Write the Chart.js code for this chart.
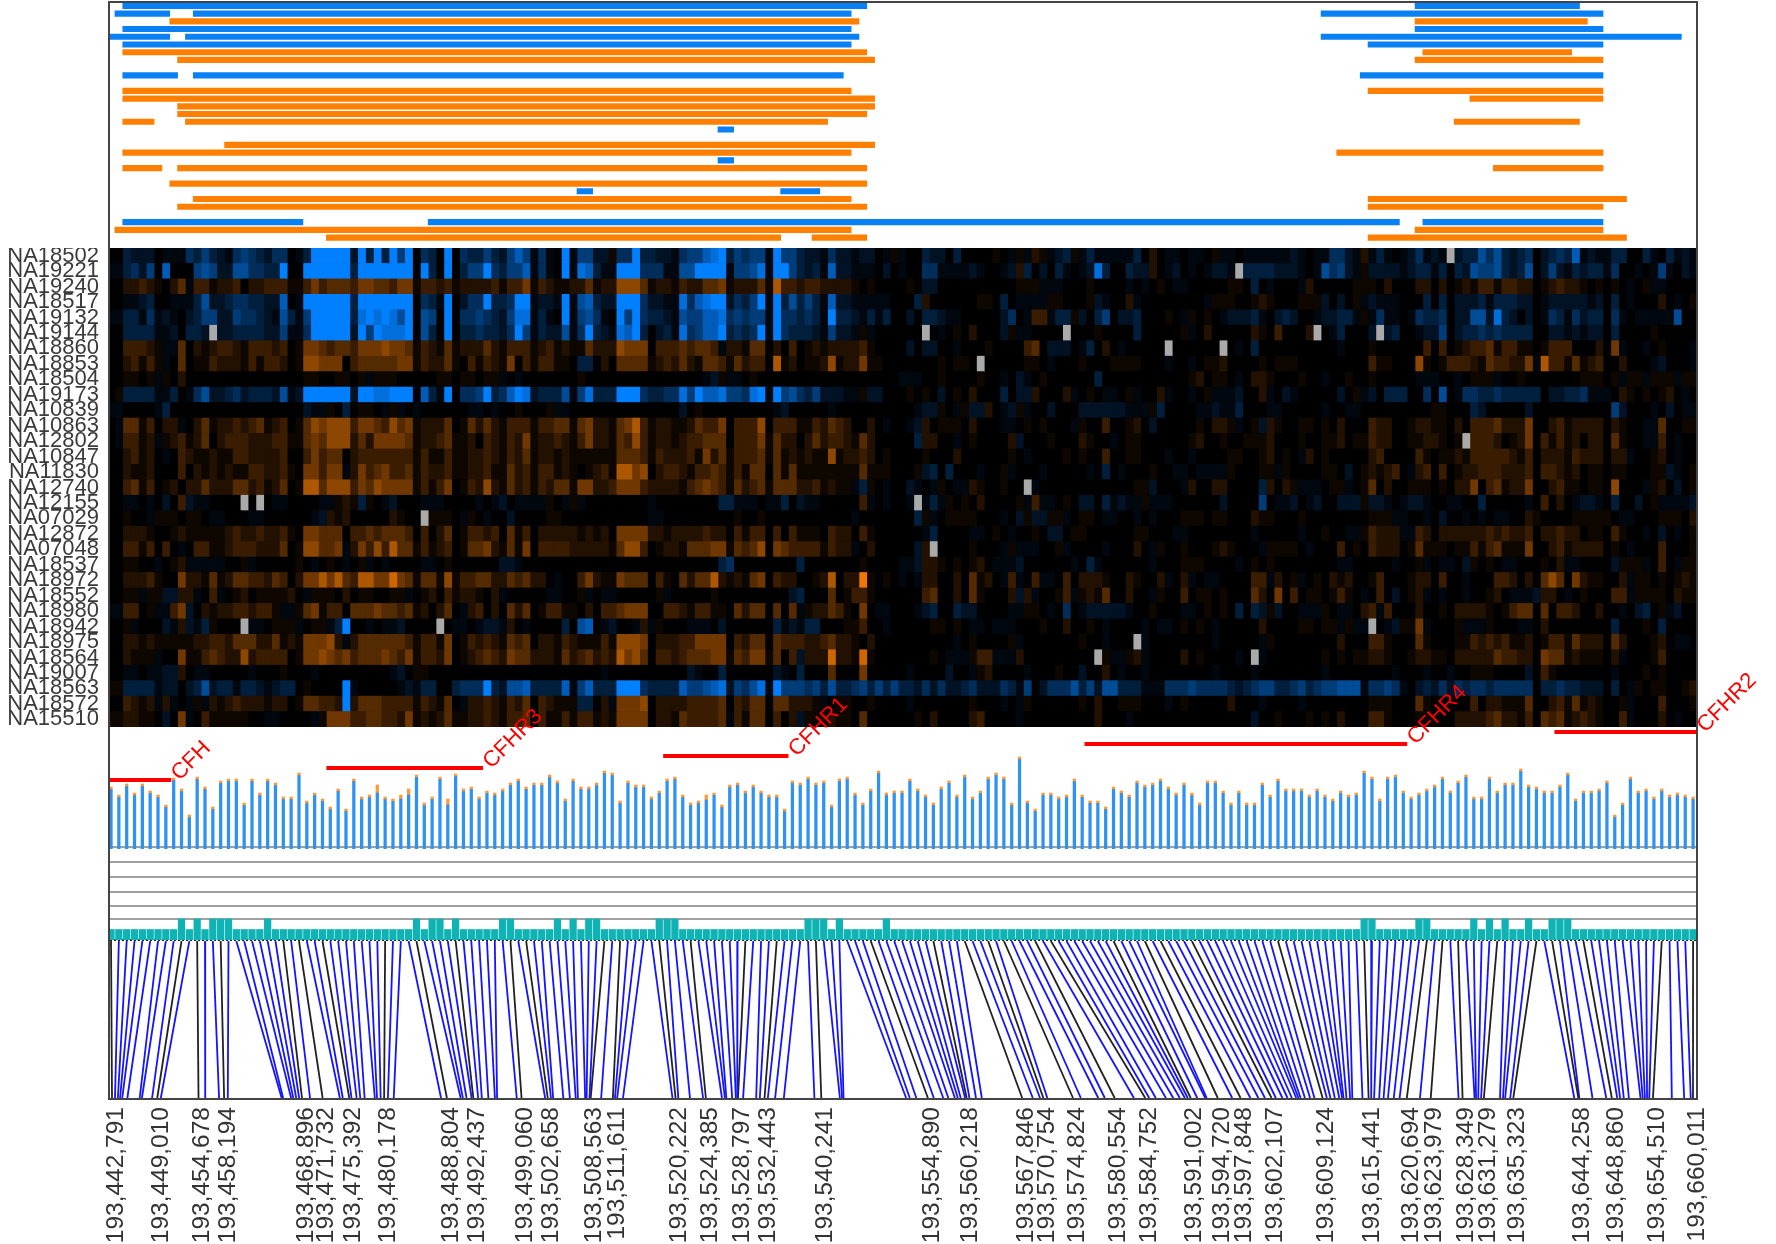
<!DOCTYPE html>
<html>
<head>
<meta charset="utf-8">
<title>CFH region copy number</title>
<script src="https://cdn.jsdelivr.net/npm/chart.js@4/dist/chart.umd.js"></script>
<style>
  body { margin: 0; background: #fff; }
  canvas { position: absolute; }
  #frame { position: absolute; left: 108px; top: 1px; width: 1590px; height: 1099px; box-sizing: border-box; border: 2px solid #444; pointer-events: none; }
</style>
</head>
<body>
<div id="frame"></div>
<script>
const samples = ['NA18502','NA19221','NA19240','NA18517','NA19132','NA19144','NA18860','NA18853','NA18504','NA19173','NA10839','NA10863','NA12802','NA10847','NA11830','NA12740','NA12155','NA07029','NA12872','NA07048','NA18537','NA18972','NA18552','NA18980','NA18942','NA18975','NA18564','NA19007','NA18563','NA18572','NA15510'];

// one row per sample, one character per SNP: 1-9 gain (orange), a-i loss (blue), 0 neutral, x missing
const heatRows = [
'00cbbb0aaadcecbadedcbdd0aciiiiibiciciei0dc0i0dccec|begeada0iaeebb1ddiccbbadeeghicedeeaieecbbadbbabb0a1|a00cbb0c000010a1a21abc1acaaaaac020aa0aa01aa0aaaaaa|ba0aaddba2aca0abdabaxbccfdfcbcd0bcdcgabaacc00ca0caba',
'aacdbe0g000efebbffddcci00iiiiiiciiiiiii0ic0i0ceeid|ceegada0iahgcaaiiidddaaffiiiiaeefhaiiecbcagbbaaa0b0|a00ddaaaaba00ab2c0b0ca0abhc00cbb20ab0a0abbaxccccbb|ba0afdeba1bbbbabccac0cbfeefcbcf0bebacbccad00a0aea0ba',
'0022321024a331223022333113534443554435513323122223|133513211224122666412213224451222417332332222101000|010bb0000000000111aaa00010000a0a010aa00000110c0a00|0a20000011102000220201213313322012322101010a01aa0000',
'00aabc00aaacfbbcddccbbg0aiiiiiiciiiiiii0dcai0bddic|cdiiabbaiafgcbbiiidbbaahdghiibdceiaicfcecagbbaaaaa0|00c2000000110c0aaaa110001ba002a00000000a1110012100|0111b0b01abaaa000c0c0bbbcacccbb0abbbbbab0c0a00020a01',
'aaccadaba0bceebbeddcbafcaeiiiiichihihfi0fe0i0ddedc|behhaca0iaefda0ieidccbafeegghdedeeaiddcdcaiccbacac0|0b0ccbaa00000bd0a33acc1b0ce0bbc00010a1010abbbca0bc|b00abbcca1adaa0adccd0bbffbhcb0b0adcadbcc0da0aaaaaf00',
'00ccccaab0ccbxbbccccbbeaadiiiiibieihhhi0fc0i0ccdcc|bdieacbbfadicbahgic0bcahdeggicdcdiaidcccbaebba1a000|000x0a0102000b1aa0000x00010000c000001a020000021030|002x0ac000bxbc00abbe0bccdcdcccc00bbababb0c0000100000',
'0033321aa40212332133323015543443555655413214122242|1333123121142226555033343443a2214402030121222231000|0b0bb00a00010000340bbb0ac020a00000x000000x0a0c0000|000000a00010000003030123341331101333000205a00a01000a',
'0023131a040113222131332016655503444445513224103132|1503133110cc020444412324214431423307120112612251100|0000010110x00000110a00010001111000a00a011200001011|1000000000311000610133321433225a73314123002000ab000a',
'001101a10200000000000000011001101a1110000011011011|a0a00000001000000000000000ab1aa010000000000000000000|aaa0010000100a0ba01000000c00000000000120110a022100|0100a00100100000aaa00a0111a001000000011101a11a111a11',
'01ccccaac0adfbbcdbcccbfabiiiiiibiihhiii0gcai0ddeic|dgihbcccfaehccciiidccddheiggheedhiaiefdcebbbaa1bb00|01010b0102000c0bb20002a010aa01a002a00a01aaab002a0b|a00000b01ab0ccc00d0f0addccdccccc0bbccdaaa021010120a01',
'aa0000ac00000000000000000baa10c0110a1a0a000000aa0a|0010001aa00000000000000b01000000000ab00000a00000000|00abb10a1bb20ab1a00b000bbbbbbaaa1c0000aabaac000aa0|0000a00aa00000000011000cb00000b0000000000eb000a0b0aa',
'0a4413022a0241223234123014656663554364512224014242|1333133441452214573122112433503336033311324320020a0|0ab2011102000aa0101000a100300120b0000010221a01b210|011010200032200122110203334222500231222202100aa40011',
'0a3312a1231240233322233114546662425555412234112032|132512232135221436312212334440333514220242332142000|00c2200a0100002b00010002100a0110000001200100111200|0100112011322001122101x3332012503131202204100aa30a00',
'0023120a032112113322223003534402333333313113112232|132412212111111444313222315241333414121211612232010|0001000200000010a00001010030011000a00a000011001201|0a20100000230000310112133333213022213222022a00120a00',
'002112000302121211332231055355a2534533413223112231|142313312101231775602332133431314404141111111141110|001bc0c000a001a000a00000a0c0a000100aa0aaaa100011a1|0000110b0121230a23030122333222303321201101100011ba01',
'00341301202242224423124017746663546555513135013262|142313244155223555322221345431423414442231211ac10a0|0ba0a10aa2100100xa00000000000011b000a200220000c202|1aaa011a0140200111010225034122500231101106000a120b01',
'00aa0a0b03baa0000x0x0aa0000aa121c10ab000aaa0000a0a|b0aaaa10a1a00000000a00000000ccaaa0aac0baa000003a0a0|0axaca1010200001a3aa010bb0cabaa1aaa000000b0000e0aa|b0ab00bbb1bba0abba00aa00c00000a03020abba0c00b01aaaab',
'00100a1110110aa000aa000000ab212000002100x1110a10a0|0b00001100000000000aa000000000100100000000000a00000|00c1a01111000a0b1bb11a0110aa00a0a00011101100021100|0100000000111aa00a0b00a0a0aa00210000111110aa000111022',
'00222100121111123223223105544403343444303024013323|041302222212120555522122223220313303031110322031000|000ac0000aa010a0010bb01100000011000aa00000000a0000|0a00100aa13222aa32022222232322302232201103100a0b0a01',
'003313030a03311233322240166445a2536374413123014452|141503333222221466301221444551434605433331322a02000|00b2x00001000a1aaa001a0000a00020a1001000121000a111|10a0003010322201411101131341115002312222010a00030001',
'001100a012aaaaa001a0000010a010a01a0a0000aa01000000|bba0000000000000000000000000cd00000000c000000010000|aab221010120aaab000000a0ca000000a0001110000a010100|000000aa00000a001a0aa0b1010aa000102aa0000b111a030a11',
'00222310052214124433243025575743775585414416133442|2434220a0035211544403104244721214503220012702291010|a0a2200204120a3a03aa03022210021002a02a0aa000033a20|1a01021200130001220300a00033202046405211002a11010121',
'0011a11bb22a03a0120111120a111020110011a01203122102|a00000aa001a0aa000001a000001000000000bc000401331000|000340020410002b2a0013a121400200a10030110100042050|301101310a030b012a0a00a00120aaab220a0100033a11110211',
'aa3301aa35b02122332331aa145133044454434120240a2302|04240133110203345550033213311042440404a122431050aa0|00abc00cbb0000aa110a0d0abbbbba001000aa01010c0cb1b0|0aaa10aa023a300020010222210134404033200200a0bc01ab00',
'001a000ba2bac1000xaa0111a011aci00a0aab0000x0aa0abb|a20a0000c0fg0ab00a2a1000aaa0b000000cabacc00011300a0|000011010aa0aaa00010020010a0000a0aa01010a000002000|011011a1aax0ab115a0001aaa1000aa0200000000c00010c0000',
'002212111112233244422412155562a2444444313315013232|143402213211131666502223355550324404333223422102000|0000000a0100001a0000000100a000xa00000000a00000a100|0000002000331000410001132323112013314222042000120aa0',
'002111a0051134322623333015565453444543513325012343|25442221423423275640332344455143551403b222822181000|000010aaa133aaa2000000000x1aa12a00002010000a0xa000|000010101122100122110222224332205441211102a000130000',
'00aa0aabb20aa00000a0001000a000000000ab011000000000|0000000000000a0000000000ba00c000000ba0c000400050000|0a0000b00a120000a000100b0020a00a00000000a0000a0000|0000a00000000a000a00a001110000b0310000000a0001010000',
'11ccccabb0bcfbccaccbabcc010000ia00000abacc00cdddic|bffgccccgaegccciiidccccgeefghbedfhaieeedecfccdecece|ccbdbdbbcdbbbdcae0bdddfcebffcccaaadddeddddcbcdeecc|decdeefffaddeda0bcbdbdcddcddddd0ccdccbbb0c0a10110012',
'003212a2a0a1a21232221220144332i24443333132140a2232|1324032111cc02a55560222233334032440442221a011001000|0a00000001000a0a100000010200111000a01000002000a000|0a00000000111000410000030221114002314121001a00030001',
'1122110b05a031111100aa0000a15553344332512124112232|13340311313312155550221433334a31440302b111211040000|001020000230000a0000000002000a000000000000000b0010|0010102000331000110002222342213043412321003a00020a00'
];

// [sample row, first SNP, last SNP] of each called segment
const lossSegments = [[0,2,97],[0,167,188],[1,1,8],[1,11,95],[1,155,191],[3,2,95],[3,167,191],[4,0,8],[4,10,96],[4,155,201],[5,2,95],[5,161,191],[9,2,9],[9,11,94],[9,160,191],[16,78,80],[20,78,80],[24,60,62],[24,86,91],[28,2,25],[28,41,165],[28,168,191]];
const gainSegments = [[2,8,96],[2,167,189],[6,2,97],[6,168,187],[7,9,98],[7,167,191],[11,2,95],[11,161,191],[12,2,98],[12,174,191],[13,9,98],[14,9,97],[15,2,6],[15,10,92],[15,172,188],[18,15,98],[19,2,95],[19,157,191],[21,2,7],[21,9,97],[21,177,191],[23,8,97],[25,11,95],[25,161,194],[26,9,97],[26,161,191],[29,1,95],[29,167,191],[30,28,86],[30,90,97],[30,161,194]];

// per SNP statistic, blue stalk plus orange tip
const snpHeight = [60,52,63,54,63,56,52,42,69,58,32,70,60,40,66,68,68,44,68,54,68,64,50,50,74,46,54,48,40,58,38,68,50,52,62,50,48,52,58,72,44,50,70,48,73,58,60,50,56,54,58,64,68,60,64,64,72,66,48,68,60,60,64,
76,74,46,66,62,62,50,56,68,70,52,44,46,52,54,42,62,64,56,62,56,52,52,38,66,64,70,64,66,42,68,70,54,44,58,76,54,56,56,68,58,52,44,60,66,52,72,50,56,70,74,70,44,90,46,38,54,54,50,52,68,52,46,46,40,60,56,52,66,62,64,68,60,54,64,54,44,66,66,56,44,56,44,44,64,52,68,58,58,
58,52,58,52,48,56,52,54,76,70,48,70,72,56,50,54,58,62,70,56,66,72,50,50,70,56,64,64,78,62,60,56,56,62,74,48,56,56,58,66,32,44,70,56,58,50,58,52,54,52,50];
const largeTips = {34: 8, 37: 4, 38: 6, 43: 6, 76: 5};

// SNPs whose teal bar reaches the second level
const tallSnps = [9,11,13,14,15,20,39,41,42,44,50,51,57,59,61,62,70,71,72,89,90,91,93,99,160,161,167,168,174,176,178,181,184,185,186];

const genes = ['CFH','CFHR3','CFHR1','CFHR4','CFHR2'];
const geneStart = [0.37,28,71,124.8,184.8];
const geneEnd = [8.2,48,87,166,203];
const geneLevel = [1,2,3,4,5];

// labelled genomic positions
const tickPositions = [193442791,193449010,193454678,193458194,193468896,193471732,193475392,193480178,193488804,193492437,193499060,193502658,193508563,193511611,193520222,193524385,193528797,193532443,193540241,193554890,193560218,193567846,193570754,193574824,193580554,193584752,193591002,193594720,193597848,193602107,193609124,193615441,193620694,193623979,193628349,193631279,193635323,193644258,193648860,193654510,193660011];

// position of every SNP in kb past 193,000,000
const snpKb = [442.791,443.2,443.6,443.9,444.2,444.9,446.6,446.9,448.3,449.010,449.5,454.678,455.6,457.5,458.194,458.7,466.1,466.3,467.4,467.7,468.1,468.5,468.896,470.0,471.732,474.1,474.5,475.392,475.7,476.4,476.9,477.5,478.9,479.2,479.7,480.178,480.7,481.5,488.0,488.804,490.7,491.0,491.5,492.2,492.437,493.1,493.6,494.5,495.4,495.7,498.4,499.060,502.3,502.658,503.1,503.4,504.8,505.7,506.5,506.8,507.8,508.0,508.4,508.563,510.0,511.611,511.9,512.2,513.0,519.8,520.222,520.6,522.2,524.0,524.385,526.6,527.0,527.2,528.0,528.5,528.7,528.797,529.5,531.3,531.8,532.443,532.9,533.9,535.1,539.3,540.241,542.8,543.1,543.3,551.9,552.4,553.3,554.890,555.7,557.0,557.7,558.6,559.0,559.4,560.0,560.218,560.6,561.5,562.3,567.846,569.3,570.3,570.754,571.3,574.824,575.9,578.3,579.2,580.554,583.2,584.752,585.3,586.2,587.6,588.6,589.5,590.2,590.6,591.002,591.9,593.0,593.2,594.720,596.7,597.848,599.2,600.3,601.2,602.107,602.7,603.6,604.3,604.9,605.5,605.8,606.1,606.7,607.4,608.0,609.124,609.7,610.2,610.8,611.4,611.8,612.0,612.4,612.9,613.2,614.6,615.441,615.8,616.2,616.9,617.5,618.1,618.9,619.7,620.694,622.5,623.979,627.8,628.349,630.0,630.2,630.5,630.9,631.279,633.5,633.9,634.2,634.9,635.323,643.7,644.258,644.4,646.2,648.1,648.860,649.6,650.0,650.5,651.2,652.8,653.1,653.4,653.7,654.0,654.510,657.1,658.8,659.7,660.011];

const SNP_COUNT = 203;
const COL_MIN = 0.37;
const BP_MIN = 193442516;
const BP_MAX = 193660561;
const sectionWidths = [50, 51, 50, 52];

Chart.defaults.animation = false;
Chart.defaults.events = [];
Chart.defaults.font.family = '"Liberation Sans", Arial, sans-serif';
Chart.defaults.plugins.legend.display = false;
Chart.defaults.plugins.tooltip.enabled = false;

function addChart(top, height, config) {
  const canvas = document.createElement('canvas');
  canvas.width = 1776;
  canvas.height = height;
  canvas.style.left = '0px';
  canvas.style.top = top + 'px';
  document.body.insertBefore(canvas, document.getElementById('frame'));
  config.options.responsive = false;
  return new Chart(canvas, config);
}

function cellColor(ch) {
  if (ch === 'x') return '#aaaaaa';
  if (ch >= '1' && ch <= '9') {
    const v = Math.pow(+ch / 9, 1.3);
    return `rgb(${Math.round(240 * v)},${Math.round(120 * v)},0)`;
  }
  if (ch >= 'a' && ch <= 'i') {
    const v = Math.pow((ch.charCodeAt(0) - 96) / 9, 1.3);
    return `rgb(0,${Math.round(128 * v)},${Math.round(255 * v)})`;
  }
  return '#000000';
}

// offset has to be off: the bar defaults turn it on for the index axis
const columnAxis = () => ({ type: 'linear', display: false, offset: false, min: COL_MIN, max: SNP_COUNT });

// Top panel: called segments per sample
function segmentDataset(segments, color) {
  return {
    data: segments.map(s => ({ y: samples[s[0]], x: [s[1], s[2]] })),
    backgroundColor: color,
    grouped: false,
    barThickness: 5.5
  };
}
addChart(2, 246, {
  type: 'bar',
  data: {
    labels: samples,
    datasets: [segmentDataset(lossSegments, '#0a80f5'), segmentDataset(gainSegments, '#ff8000')]
  },
  options: {
    indexAxis: 'y',
    layout: { padding: { left: 110, right: 79, bottom: 6.5 } },
    scales: {
      x: columnAxis(),
      y: { type: 'category', display: false, offset: true }
    }
  }
});

// Heatmap
const heatCells = heatRows.map(row => row.split('|').map((part, k) =>
  part.padEnd(sectionWidths[k], '0').slice(0, sectionWidths[k])).join(''));

const blackBackground = {
  id: 'blackBackground',
  beforeDatasetsDraw(chart) {
    const a = chart.chartArea;
    chart.ctx.fillStyle = '#000';
    chart.ctx.fillRect(a.left, a.top, a.right - a.left, a.bottom - a.top);
  }
};

const heatDatasets = [];
for (let c = 0; c < SNP_COUNT; c++) {
  heatDatasets.push({
    data: samples.map(s => ({ y: s, x: [c, c + 1] })),
    backgroundColor: heatCells.map(row => cellColor(row[c])),
    grouped: false,
    barPercentage: 1,
    categoryPercentage: 1
  });
}
addChart(248, 479, {
  type: 'bar',
  data: { labels: samples, datasets: heatDatasets },
  plugins: [blackBackground],
  options: {
    indexAxis: 'y',
    layout: { padding: { right: 79 } },
    scales: {
      x: columnAxis(),
      y: {
        type: 'category',
        offset: true,
        afterFit(scale) {
          scale.width = 110;
          scale.paddingTop = 0;
          scale.paddingBottom = 0;
        },
        grid: { display: false, drawTicks: false },
        border: { display: false },
        ticks: { autoSkip: false, padding: 11, color: '#3a3a3a', font: { size: 22 } }
      }
    }
  }
});

// Grey guide lines and teal level bars
const gridLevels = [1.97, 3.27, 4.6, 5.97, 7.46, 8.89];
addChart(845, 97, {
  type: 'bar',
  data: {
    datasets: [
      {
        data: Array.from({ length: SNP_COUNT }, (_, i) => ({ x: i + 0.5, y: tallSnps.includes(i) ? 2 : 1 })),
        backgroundColor: '#0fb3b3',
        barThickness: 6.6,
        grouped: false
      },
      {
        type: 'line',
        data: [{ x: COL_MIN, y: 0 }, { x: SNP_COUNT, y: 0 }],
        borderColor: '#222',
        borderWidth: 2,
        borderDash: [2, 2],
        pointRadius: 0,
        clip: false
      }
    ]
  },
  options: {
    layout: { padding: { left: 110, right: 79, bottom: 2 } },
    scales: {
      x: columnAxis(),
      y: {
        min: 0,
        max: 9.05,
        afterFit(scale) { scale.width = 0; },
        afterBuildTicks(scale) { scale.ticks = gridLevels.map(v => ({ value: v })); },
        grid: { color: '#a0a0a0', lineWidth: 2, drawTicks: false },
        border: { display: false },
        ticks: { display: false }
      }
    }
  }
});

// Stalks, gene bars and gene names
const geneNames = {
  id: 'geneNames',
  afterDatasetsDraw(chart) {
    const ctx = chart.ctx;
    genes.forEach((name, i) => {
      ctx.save();
      ctx.translate(chart.scales.x.getPixelForValue(geneEnd[i]) + 4, chart.scales.yGene.getPixelForValue(geneLevel[i]) - 3);
      ctx.rotate(-Math.PI / 4);
      ctx.font = '22px "Liberation Sans", Arial, sans-serif';
      ctx.fillStyle = '#ff0000';
      ctx.textBaseline = 'middle';
      ctx.fillText(name, 0, 0);
      ctx.restore();
    });
  }
};
const tipSize = i => largeTips[i] || 2.5;
addChart(660, 190, {
  type: 'bar',
  data: {
    datasets: [
      {
        data: snpHeight.map((h, i) => ({ x: i + 0.5, y: [-2, h - tipSize(i)] })),
        backgroundColor: '#2f92f2',
        barThickness: 2.6,
        grouped: false
      },
      {
        data: snpHeight.map((h, i) => ({ x: i + 0.5, y: [h - tipSize(i), h] })),
        backgroundColor: '#ff9a33',
        barThickness: 2.6,
        grouped: false
      }
    ].concat(genes.map((g, i) => ({
      type: 'line',
      yAxisID: 'yGene',
      data: [{ x: geneStart[i], y: geneLevel[i] }, { x: geneEnd[i], y: geneLevel[i] }],
      borderColor: '#ff0000',
      borderWidth: 4,
      pointRadius: 0,
      clip: false
    })))
  },
  plugins: [geneNames],
  options: {
    layout: { padding: { left: 110, right: 79, top: 67, bottom: 1 } },
    scales: {
      x: columnAxis(),
      y: { display: false, min: -2, max: 120 },
      yGene: { display: false, min: -4.75, max: 5.42 }
    }
  }
});

// Connectors from SNP columns to genomic position, with the position ticks
const bpOfColumn = i => BP_MIN + (i + 0.5 - COL_MIN) / (SNP_COUNT - COL_MIN) * (BP_MAX - BP_MIN);
const snpBp = snpKb.map(kb => Math.round(193000000 + kb * 1000));
addChart(941, 303, {
  type: 'line',
  data: {
    datasets: snpBp.map((bp, i) => ({
      data: [{ x: bpOfColumn(i), y: 1 }, { x: bp, y: 0 }],
      borderColor: tickPositions.includes(bp) ? '#222222' : '#1414ff',
      borderWidth: 1.8,
      pointRadius: 0,
      clip: false
    }))
  },
  options: {
    layout: { padding: { left: 110, right: 79 } },
    scales: {
      x: {
        type: 'linear',
        min: BP_MIN,
        max: BP_MAX,
        afterFit(scale) { scale.height = 146; },
        afterBuildTicks(scale) { scale.ticks = tickPositions.map(v => ({ value: v })); },
        grid: { display: false, drawTicks: false },
        border: { display: false },
        ticks: {
          autoSkip: false,
          minRotation: 90,
          maxRotation: 90,
          padding: 9,
          labelOffset: 4,
          color: '#333',
          font: { size: 24.5 },
          callback: v => Number(v).toLocaleString('en-US')
        }
      },
      y: { display: false, min: 0, max: 1 }
    }
  }
});
</script>
</body>
</html>
